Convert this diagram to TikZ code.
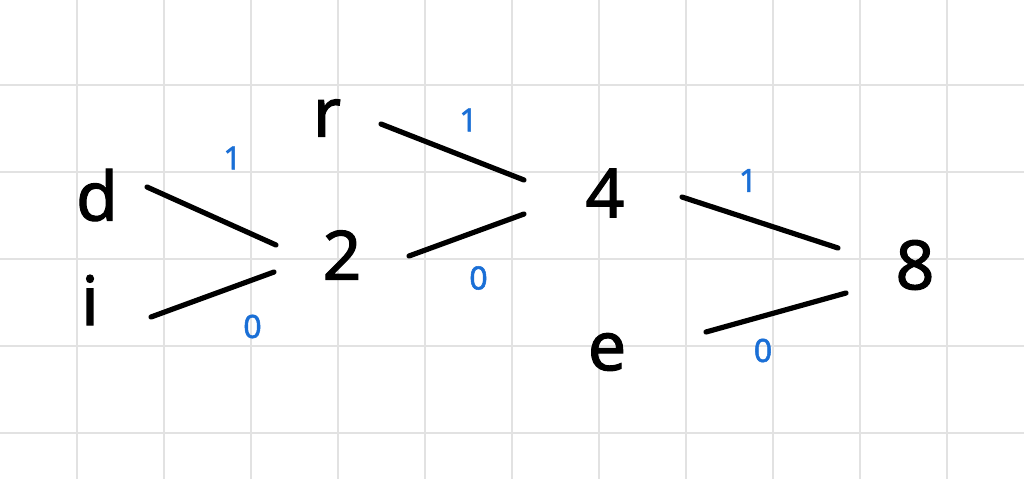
\documentclass[tikz,border=0pt]{standalone}
\usepackage{fontspec}
\setmainfont{Noto Sans}
\newfontfamily\inkfont{Noto Sans}[FakeBold=1.6]
\usetikzlibrary{calc}
\definecolor{inkblue}{HTML}{1A6FD6}
\definecolor{gridgray}{HTML}{E2E2E2}

\begin{document}
\begin{tikzpicture}[x=0.5pt,y=-0.5pt]
  \tikzset{Letter/.style={font=\fontsize{34}{34}\inkfont, inner sep=0pt}}
  \tikzset{Bit/.style={font=\fontsize{16}{16}\inkfont, text=inkblue, inner sep=0pt}}
  \tikzset{Edge/.style={line width=2.6pt, line cap=round, black}}
  \tikzset{GridLine/.style={line width=1.4pt, gridgray}}

  \useasboundingbox[fill=white] (0,0) rectangle (1024,479);
  % grid paper
  \foreach \gx in {77,164,...,1024} \draw[GridLine] (\gx,0) -- (\gx,479);
  \foreach \gy in {85,172,...,479} \draw[GridLine] (0,\gy) -- (1024,\gy);

  \node[Letter] (d) at (97,195) {d};
  \node[Letter] (i) at (90,300) {i};
  \node[Letter] (two) at (342,255) {2};
  \node[Letter] (r) at (327,118) {r};
  \node[Letter] (four) at (605,193) {4};
  \node[Letter] (e) at (607,352) {e};
  \node[Letter] (eight) at (915,265) {8};

  \draw[Edge] ($(d)+(50,-8)$) -- ($(two)+(-66,-10)$) node[Bit, midway, shift={(21,-58)}] {1};
  \draw[Edge] ($(i)+(61,17)$) -- ($(two)+(-68,17)$) node[Bit, midway, shift={(40,32)}] {0};
  \draw[Edge] ($(r)+(54,6)$) -- ($(four)+(-81,-13)$) node[Bit, midway, shift={(16,-32)}] {1};
  \draw[Edge] ($(two)+(67,1)$) -- ($(four)+(-81,21)$) node[Bit, midway, shift={(12,43)}] {0};
  \draw[Edge] ($(four)+(77,4)$) -- ($(eight)+(-77,-17)$) node[Bit, midway, shift={(-12,-42)}] {1};
  \draw[Edge] ($(e)+(99,-20)$) -- ($(eight)+(-69,28)$) node[Bit, midway, shift={(-13,38)}] {0};
\end{tikzpicture}
\end{document}
